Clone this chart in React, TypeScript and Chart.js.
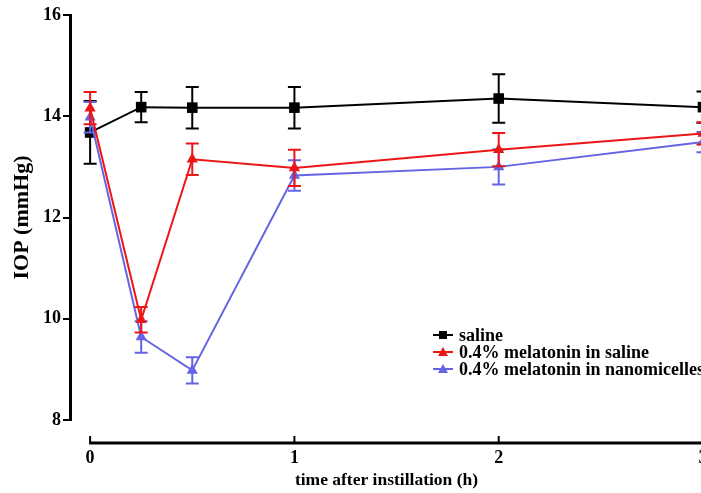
import React, { useEffect, useRef } from "react";
import { Chart, registerables } from "chart.js";

Chart.register(...registerables);

// ---- data ----
const times = [0, 0.25, 0.5, 1, 2, 3];
const salineMean = [13.68, 14.18, 14.17, 14.17, 14.35, 14.18];
const salineErr = [0.62, 0.3, 0.41, 0.41, 0.48, 0.31];
const melSalineMean = [14.16, 9.98, 13.15, 12.98, 13.34, 13.66];
const melSalineErr = [0.32, 0.25, 0.31, 0.36, 0.33, 0.22];
const melNanoMean = [13.98, 9.64, 8.98, 12.83, 13.0, 13.49];
const melNanoErr = [0.3, 0.31, 0.26, 0.3, 0.35, 0.2];
const seriesLabels = ["saline", "0.4% melatonin in saline", "0.4% melatonin in nanomicelles"];
const yTicks = [8, 10, 12, 14, 16];
const xTicks = [0, 1, 2, 3];
const yTitle = "IOP (mmHg)";
const xTitle = "time after instillation (h)";

const BLACK = "#000000";
const RED = "#ec1616";
const BLUE = "#6464e4";
const FONT = "'Liberation Serif', 'Times New Roman', serif";

const errorSets = [salineErr, melSalineErr, melNanoErr];

const errorBarPlugin = {
  id: "errorBars",
  beforeDatasetDraw(chart: any, args: any) {
    const i = args.index;
    const ds = chart.data.datasets[i];
    const errs = errorSets[i];
    const xs = chart.scales.x;
    const ys = chart.scales.y;
    const ctx = chart.ctx;
    ctx.save();
    ctx.strokeStyle = ds.borderColor;
    ctx.lineWidth = 2;
    ds.data.forEach((pt: any, k: number) => {
      const px = xs.getPixelForValue(pt.x);
      const top = ys.getPixelForValue(pt.y + errs[k]);
      const bot = ys.getPixelForValue(pt.y - errs[k]);
      ctx.beginPath();
      ctx.moveTo(px, top);
      ctx.lineTo(px, bot);
      ctx.moveTo(px - 6.5, top);
      ctx.lineTo(px + 6.5, top);
      ctx.moveTo(px - 6.5, bot);
      ctx.lineTo(px + 6.5, bot);
      ctx.stroke();
    });
    ctx.restore();
  },
};

const xAxisPlugin = {
  id: "xAxisLine",
  afterDraw(chart: any) {
    const xs = chart.scales.x;
    const ctx = chart.ctx;
    const yPix = chart.chartArea.bottom + 23;
    ctx.save();
    ctx.strokeStyle = "#000";
    ctx.lineWidth = 3;
    ctx.beginPath();
    ctx.moveTo(xs.getPixelForValue(xTicks[0]) - 1, yPix);
    ctx.lineTo(xs.right + 40, yPix);
    ctx.stroke();
    ctx.lineWidth = 2;
    ctx.beginPath();
    xTicks.forEach((t) => {
      const px = xs.getPixelForValue(t);
      ctx.moveTo(px, yPix);
      ctx.lineTo(px, yPix - 7);
    });
    ctx.stroke();
    ctx.restore();
  },
};

function LegendIcon({ color, shape }: { color: string; shape: "square" | "triangle" }) {
  return (
    <div style={{ position: "relative", width: 20, height: 17, flex: "0 0 auto" }}>
      <div style={{ position: "absolute", left: 0, right: 0, top: 7, height: 2, background: color }} />
      {shape === "square" ? (
        <div style={{ position: "absolute", left: 6, top: 4, width: 8, height: 8, background: color }} />
      ) : (
        <div
          style={{
            position: "absolute",
            left: 5,
            top: 3,
            width: 0,
            height: 0,
            borderLeft: "5px solid transparent",
            borderRight: "5px solid transparent",
            borderBottom: `9px solid ${color}`,
          }}
        />
      )}
    </div>
  );
}

export default function App() {
  const ref = useRef<HTMLCanvasElement>(null);

  useEffect(() => {
    if (!ref.current) return;
    const mk = (m: number[]) => times.map((t, i) => ({ x: t, y: m[i] }));
    const chart = new Chart(ref.current, {
      type: "line",
      data: {
        datasets: [
          {
            label: seriesLabels[0],
            data: mk(salineMean),
            borderColor: BLACK,
            backgroundColor: BLACK,
            borderWidth: 2,
            pointStyle: "rect",
            pointRadius: 7.5,
            pointBorderWidth: 0,
            order: 3,
            clip: false,
          },
          {
            label: seriesLabels[1],
            data: mk(melSalineMean),
            borderColor: RED,
            backgroundColor: RED,
            borderWidth: 2,
            pointStyle: "triangle",
            pointRadius: 6.5,
            pointBorderWidth: 0,
            order: 1,
            clip: false,
          },
          {
            label: seriesLabels[2],
            data: mk(melNanoMean),
            borderColor: BLUE,
            backgroundColor: BLUE,
            borderWidth: 2,
            pointStyle: "triangle",
            pointRadius: 6.5,
            pointBorderWidth: 0,
            order: 2,
            clip: false,
          },
        ],
      },
      options: {
        animation: false,
        responsive: false,
        maintainAspectRatio: false,
        layout: { padding: { left: 0, top: 15, right: 57, bottom: 0 } },
        plugins: { legend: { display: false }, tooltip: { enabled: false } },
        scales: {
          x: {
            type: "linear",
            min: -0.0985,
            max: 3,
            afterFit: (s: any) => {
              s.height = 73;
            },
            afterBuildTicks: (s: any) => {
              s.ticks = xTicks.map((v) => ({ value: v }));
            },
            grid: { display: false, drawTicks: false },
            border: { display: false },
            ticks: {
              padding: 28,
              color: "#000",
              font: { family: FONT, size: 18, weight: "bold" },
              maxRotation: 0,
              autoSkip: false,
            },
            title: {
              display: true,
              text: xTitle,
              color: "#000",
              font: { family: FONT, size: 17.5, weight: "bold" },
              padding: { top: 0, bottom: 2 },
            },
          },
          y: {
            type: "linear",
            min: 8,
            max: 16,
            afterFit: (s: any) => {
              s.width = 70;
            },
            afterBuildTicks: (s: any) => {
              s.ticks = yTicks.map((v) => ({ value: v }));
            },
            grid: {
              display: true,
              drawOnChartArea: false,
              drawTicks: true,
              tickLength: 7,
              color: "#000",
              lineWidth: 2,
            },
            border: { display: true, color: "#000", width: 3 },
            ticks: {
              padding: 2,
              color: "#000",
              font: { family: FONT, size: 18, weight: "bold" },
            },
            title: {
              display: true,
              text: yTitle,
              color: "#000",
              font: { family: FONT, size: 22, weight: "bold" },
              padding: { top: 9, bottom: 0 },
            },
          },
        },
      },
      plugins: [errorBarPlugin, xAxisPlugin],
    } as any);
    return () => chart.destroy();
  }, []);

  const legendRows: { color: string; shape: "square" | "triangle" }[] = [
    { color: BLACK, shape: "square" },
    { color: RED, shape: "triangle" },
    { color: BLUE, shape: "triangle" },
  ];

  return (
    <div
      style={{
        position: "fixed",
        left: 0,
        top: 0,
        width: 701,
        height: 493,
        overflow: "hidden",
        background: "#fff",
      }}
    >
      <canvas ref={ref} width={760} height={493} style={{ width: 760, height: 493, display: "block" }} />
      <div
        style={{
          position: "absolute",
          left: 433,
          top: 327,
          fontFamily: FONT,
          fontWeight: "bold",
          fontSize: 18,
          lineHeight: "17px",
          color: "#000",
          whiteSpace: "nowrap",
        }}
      >
        {legendRows.map((r, i) => (
          <div key={i} style={{ display: "flex", alignItems: "center", height: 17 }}>
            <LegendIcon color={r.color} shape={r.shape} />
            <span style={{ marginLeft: 6 }}>{seriesLabels[i]}</span>
          </div>
        ))}
      </div>
    </div>
  );
}
